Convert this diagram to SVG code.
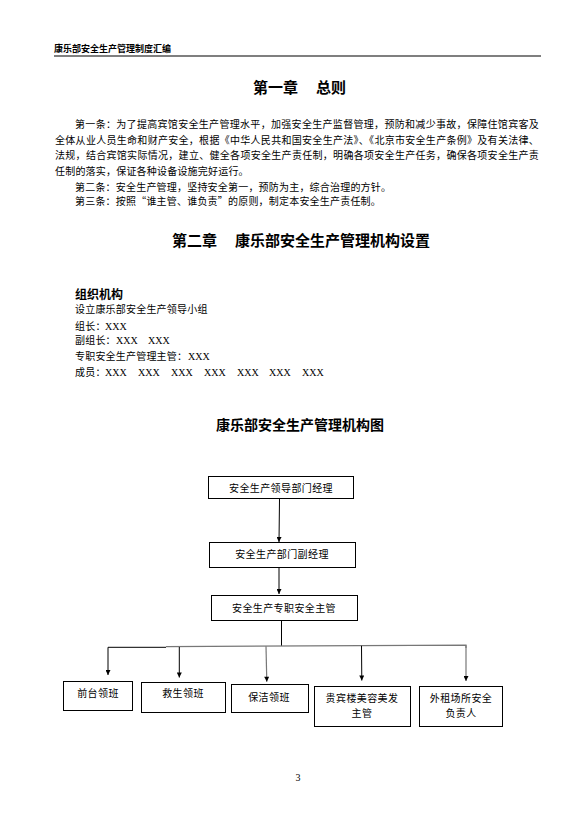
<svg xmlns="http://www.w3.org/2000/svg" width="582" height="829" viewBox="0 0 582 829">
<style>
text{font-family:"Noto Sans CJK SC","Noto Sans",sans-serif;fill:#000}
.hd{font-size:9px;font-weight:bold}
.h1{font-size:15px;font-weight:bold}
.h2{font-size:12px;font-weight:bold}
.h3{font-size:14px;font-weight:bold}
.b{font-size:10px;letter-spacing:0.2px}
.x{font-family:"Liberation Serif",serif;font-size:10px}
.bx{font-size:10px;letter-spacing:0.4px;text-anchor:middle}
.pn{font-family:"Liberation Serif",serif;font-size:10px;text-anchor:middle}
rect.n{fill:#fff;stroke:#000;stroke-width:1}
.c{stroke:#000;stroke-width:1;fill:none}
.g{stroke:#777;stroke-width:1.2;fill:none}
</style>
<defs>
<marker id="ah" viewBox="0 0 10 10" refX="10" refY="5" markerUnits="userSpaceOnUse" markerWidth="6" markerHeight="5" orient="auto">
<path d="M0,0 L10,5 L0,10 z" fill="#000"/>
</marker>
</defs>
<rect width="582" height="829" fill="#fff"/>
<g id="header">
<text class="hd" x="54" y="52">康乐部安全生产管理制度汇编</text>
<line x1="54" y1="56" x2="541" y2="56" stroke="#000" stroke-width="1.2"/>
</g>
<g id="chapter1">
<text class="h1" x="253" y="92.5">第一章</text>
<text class="h1" x="316" y="92.5">总则</text>
<text class="b" x="75" y="128" textLength="464" lengthAdjust="spacing">第一条：为了提高宾馆安全生产管理水平，加强安全生产监督管理，预防和减少事故，保障住馆宾客及</text>
<text class="b" x="55" y="143.8" textLength="484" lengthAdjust="spacing">全体从业人员生命和财产安全，根据《中华人民共和国安全生产法》、《北京市安全生产条例》及有关法律、</text>
<text class="b" x="55" y="159" textLength="484" lengthAdjust="spacing">法规，结合宾馆实际情况，建立、健全各项安全生产责任制，明确各项安全生产任务，确保各项安全生产责</text>
<text class="b" x="55" y="174.8">任制的落实，保证各种设备设施完好运行。</text>
<text class="b" x="75" y="191">第二条：安全生产管理，坚持安全第一，预防为主，综合治理的方针。</text>
<text class="b" x="75" y="205.4">第三条：按照“谁主管、谁负责”的原则，制定本安全生产责任制。</text>
</g>
<g id="chapter2">
<text class="h1" x="172" y="245.5">第二章</text>
<text class="h1" x="235" y="245.5">康乐部安全生产管理机构设置</text>
<text class="h2" x="75" y="299">组织机构</text>
<text class="b" x="75" y="313">设立康乐部安全生产领导小组</text>
<text class="b" x="75" y="329.7">组长：</text><text class="x" x="105" y="329.7">XXX</text>
<text class="b" x="75" y="343.7">副组长：</text><text class="x" x="116" y="343.7">XXX</text><text class="x" x="148" y="343.7">XXX</text>
<text class="b" x="75" y="359.7">专职安全生产管理主管：</text><text class="x" x="188" y="359.7">XXX</text>
<text class="b" x="75" y="375.7">成员：</text>
<text class="x" x="105" y="375.7">XXX</text><text class="x" x="138" y="375.7">XXX</text><text class="x" x="171" y="375.7">XXX</text><text class="x" x="204" y="375.7">XXX</text><text class="x" x="237" y="375.7">XXX</text><text class="x" x="269" y="375.7">XXX</text><text class="x" x="302" y="375.7">XXX</text>
</g>
<g id="chart-title">
<text class="h3" x="216" y="430">康乐部安全生产管理机构图</text>
</g>
<g id="connectors">
<line class="c" x1="279.5" y1="499" x2="279" y2="542" marker-end="url(#ah)"/>
<line class="c" x1="279" y1="567.5" x2="279" y2="594" marker-end="url(#ah)"/>
<line class="c" x1="281.5" y1="620.5" x2="281.5" y2="646"/>
<line class="c" x1="108" y1="647.3" x2="166" y2="647.3"/>
<polyline class="g" points="166,646.6 466,645.2 466,648"/>
<line class="c" x1="108" y1="647.3" x2="108" y2="675" marker-end="url(#ah)"/>
<line class="c" x1="179.3" y1="647" x2="179.3" y2="677.5" marker-end="url(#ah)"/>
<line class="g" x1="266" y1="646.2" x2="266.8" y2="681.7" marker-end="url(#ah)"/>
<line class="c" x1="361.5" y1="645.8" x2="361.8" y2="680.5" marker-end="url(#ah)"/>
<line class="g" x1="466" y1="645.2" x2="466" y2="681" marker-end="url(#ah)"/>
</g>
<g id="n1"><rect class="n" x="208.5" y="476.5" width="145" height="22"/><text class="bx" x="281" y="491.5">安全生产领导部门经理</text></g>
<g id="n2"><rect class="n" x="209.5" y="542.5" width="146" height="25"/><text class="bx" x="282" y="557.8">安全生产部门副经理</text></g>
<g id="n3"><rect class="n" x="211.5" y="595.5" width="146" height="25"/><text class="bx" x="284" y="611.8">安全生产专职安全主管</text></g>
<g id="b1"><rect class="n" x="63.5" y="681.5" width="69" height="29"/><text class="bx" x="98" y="697">前台领班</text></g>
<g id="b2"><rect class="n" x="141.5" y="682.5" width="84" height="30"/><text class="bx" x="183" y="696.5">救生领班</text></g>
<g id="b3"><rect class="n" x="231.5" y="684.5" width="77" height="28"/><text class="bx" x="269" y="700.5">保洁领班</text></g>
<g id="b4"><rect class="n" x="314.5" y="686.5" width="96" height="40"/><text class="bx" x="362" y="701.8">贵宾楼美容美发</text><text class="bx" x="362" y="717">主管</text></g>
<g id="b5"><rect class="n" x="419.5" y="686.5" width="83" height="40"/><text class="bx" x="461" y="701.8">外租场所安全</text><text class="bx" x="461" y="717">负责人</text></g>
<g id="footer"><text class="pn" x="298" y="781">3</text></g>
</svg>
